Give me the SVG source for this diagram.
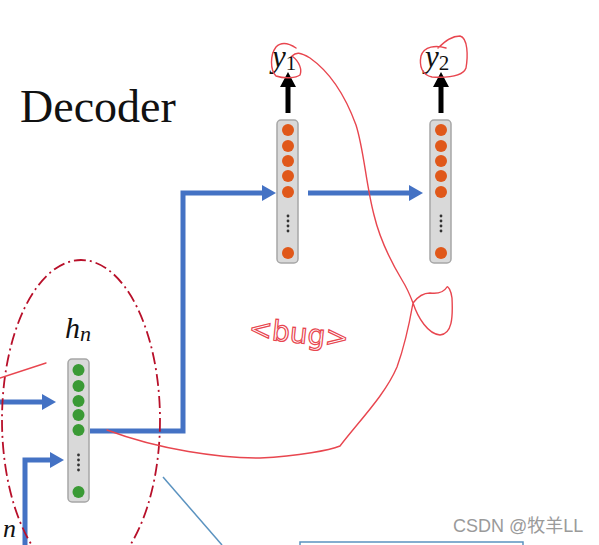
<svg xmlns="http://www.w3.org/2000/svg" width="599" height="545" viewBox="0 0 599 545">
<defs>
<style>
.vec{fill:#d9d9d9;stroke:#a6a6a6;stroke-width:1.5}
.o{fill:#e0581a}
.g{fill:#3a9a35}
.dot{fill:#333}
.blue{fill:none;stroke:#4472c4;stroke-width:5}
.bh{fill:#4472c4}
.blk{fill:none;stroke:#000;stroke-width:5}
.red{fill:none;stroke:#e8464f;stroke-width:1.4;stroke-linecap:round;stroke-linejoin:round}
.math{font-family:"Liberation Serif",serif;font-style:italic;fill:#111}
.thin{fill:none;stroke:#5b93c0;stroke-width:1.5}
</style>
</defs>
<rect width="599" height="545" fill="#fff"/>
<text x="20" y="122" font-family="Liberation Serif, serif" font-size="46" fill="#111">Decoder</text>

<g id="connectors">
<path class="blue" d="M90,431 H183 V193 H263"/>
<polygon class="bh" points="276,193 262,185 262,201"/>
<path class="blue" d="M308,193 H410"/>
<polygon class="bh" points="423,193 409,185 409,201"/>
<path class="blue" d="M0,402 H44"/>
<polygon class="bh" points="56,402 42,394 42,410"/>
<path class="blue" d="M25,545 V460 H52"/>
<polygon class="bh" points="64,460 50,452 50,468"/>
<path class="blk" d="M288,113 V84"/>
<polygon points="288,72 280,87 296,87" fill="#000"/>
<path class="blk" d="M441,113 V84"/>
<polygon points="441,72 433,87 449,87" fill="#000"/>
</g>

<g id="dec1">
<rect class="vec" x="277" y="120" width="21" height="143" rx="4"/>
<circle class="o" cx="288" cy="130" r="6"/><circle class="o" cx="288" cy="146" r="6"/><circle class="o" cx="288" cy="161" r="6"/><circle class="o" cx="288" cy="176" r="6"/><circle class="o" cx="288" cy="192" r="6"/><circle class="o" cx="288" cy="253" r="6"/>
<circle class="dot" cx="288" cy="216" r="1.4"/><circle class="dot" cx="288" cy="221" r="1.4"/><circle class="dot" cx="288" cy="226" r="1.4"/><circle class="dot" cx="288" cy="231" r="1.4"/>
</g>
<g id="dec2">
<rect class="vec" x="430" y="120" width="21" height="143" rx="4"/>
<circle class="o" cx="441" cy="130" r="6"/><circle class="o" cx="441" cy="146" r="6"/><circle class="o" cx="441" cy="161" r="6"/><circle class="o" cx="441" cy="176" r="6"/><circle class="o" cx="441" cy="192" r="6"/><circle class="o" cx="441" cy="253" r="6"/>
<circle class="dot" cx="441" cy="216" r="1.4"/><circle class="dot" cx="441" cy="221" r="1.4"/><circle class="dot" cx="441" cy="226" r="1.4"/><circle class="dot" cx="441" cy="231" r="1.4"/>
</g>
<g id="hn">
<rect class="vec" x="68" y="359" width="21" height="143" rx="4"/>
<circle class="g" cx="78.5" cy="370" r="6"/><circle class="g" cx="78.5" cy="386" r="6"/><circle class="g" cx="78.5" cy="401" r="6"/><circle class="g" cx="78.5" cy="415" r="6"/><circle class="g" cx="78.5" cy="430" r="6"/><circle class="g" cx="78.5" cy="492" r="6"/>
<circle class="dot" cx="78.5" cy="455" r="1.4"/><circle class="dot" cx="78.5" cy="460" r="1.4"/><circle class="dot" cx="78.5" cy="465" r="1.4"/><circle class="dot" cx="78.5" cy="470" r="1.4"/>
<text class="math" x="65" y="338" font-size="30">h<tspan font-size="22" dy="3">n</tspan></text>
</g>
<g id="y1"><text class="math" x="272" y="67" font-size="31">y<tspan font-size="21" dy="3" font-style="normal">1</tspan></text></g>
<g id="y2"><text class="math" x="425" y="67" font-size="31">y<tspan font-size="21" dy="3" font-style="normal">2</tspan></text></g>
<text class="math" x="3" y="537" font-size="26">n</text>

<ellipse cx="81" cy="420" rx="79" ry="160" fill="none" stroke="#b8102a" stroke-width="1.8" stroke-dasharray="12,4,2,4"/>

<g id="annotations">
<path class="red" d="M0,378 L46,363"/>
<path class="red" d="M107,430 C160,450 220,458 260,458 C300,456 330,450 340,446 C360,420 385,395 397,367 C405,345 410,320 413,303 C418,318 428,334 440,335 C452,334 453,318 452,298 C451,290 448,286 447,287 C444,292 438,294 430,293 C422,293 416,299 413,303 C410,295 407,288 402,280 C390,260 380,240 374,215 C366,185 364,150 356,125 C345,95 330,72 310,58 C300,52 296,52 292,56 C300,62 302,70 300,75 C296,78 285,79 276,76 C270,70 270,55 276,47 C280,43 287,42 296,48"/>
<path class="red" d="M438,48 C446,40 452,36 460,36 C468,38 468,56 466,68 C463,76 450,78 432,77 C422,75 419,66 421,56 C424,46 436,45 446,48"/>
<text x="248" y="342" font-family="DejaVu Sans, sans-serif" font-size="28" fill="none" stroke="#e8464f" stroke-width="1.2" transform="rotate(6 290 340)">&lt;bug&gt;</text>
<path class="thin" d="M163,477 L222,545"/>
<path class="thin" d="M300,546 V542 H523 V546"/>
</g>
<text x="453" y="532" font-family="Liberation Sans, Noto Sans CJK SC, sans-serif" font-size="18" fill="#9a9a9a">CSDN @牧羊LL</text>
</svg>
